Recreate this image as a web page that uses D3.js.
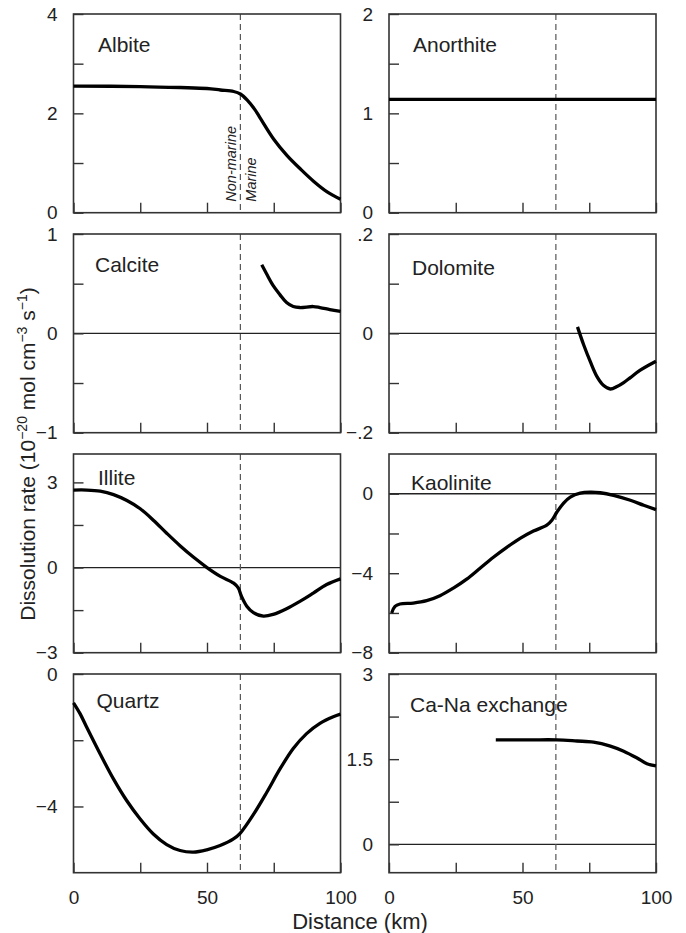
<!DOCTYPE html>
<html>
<head>
<meta charset="utf-8">
<script src="https://cdn.jsdelivr.net/npm/d3@7"></script>
<style>
  body { margin: 0; background: #fff; }
  svg text { font-family: "Liberation Sans", Arial, Helvetica, sans-serif; fill: #222; }
</style>
</head>
<body>
<svg id="chart" width="686" height="933"></svg>
<script>
// distance along the flow path (km) and dissolution rate for each mineral
var albiteX = [0, 25, 40, 50, 55, 60, 62.5, 65, 68, 70, 75, 80, 85, 90, 95, 100];
var albiteY = [2.55, 2.54, 2.52, 2.50, 2.47, 2.44, 2.39, 2.27, 2.07, 1.90, 1.48, 1.15, 0.88, 0.63, 0.42, 0.27];

var anorthiteX = [0, 100];
var anorthiteY = [1.14, 1.14];

var calciteX = [70.5, 72.3, 74.8, 77.3, 79.8, 82.3, 84.8, 89.8, 92.3, 96, 100];
var calciteY = [0.69, 0.60, 0.48, 0.39, 0.31, 0.27, 0.26, 0.27, 0.26, 0.24, 0.22];

var dolomiteX = [70.6, 72.9, 75.4, 77.9, 80.4, 82.9, 85.4, 87.9, 90.4, 94.1, 100];
var dolomiteY = [0.013, -0.023, -0.057, -0.087, -0.105, -0.112, -0.107, -0.099, -0.089, -0.074, -0.056];

var illiteX = [0, 5, 10, 15, 20, 25, 30, 35, 40, 45, 50, 55, 60, 61.7, 62.9, 64.9, 67.4, 71.1, 74.8, 79.8, 84.8, 89.8, 94.8, 100];
var illiteY = [2.73, 2.73, 2.69, 2.57, 2.36, 2.07, 1.66, 1.20, 0.76, 0.36, 0, -0.31, -0.55, -0.72, -1.01, -1.36, -1.59, -1.71, -1.65, -1.45, -1.19, -0.90, -0.60, -0.40];

var kaoliniteX = [1, 2.25, 4.1, 9.1, 14.1, 19.1, 24.1, 29.1, 34.1, 39.1, 44.1, 49.1, 54.1, 59.1, 61, 62.9, 65.4, 67.9, 71.6, 75.4, 79.1, 84.1, 90.4, 95.4, 100];
var kaoliniteY = [-6.0, -5.67, -5.55, -5.5, -5.38, -5.13, -4.75, -4.3, -3.75, -3.2, -2.7, -2.25, -1.88, -1.58, -1.33, -0.92, -0.47, -0.17, 0.03, 0.08, 0.05, -0.08, -0.33, -0.58, -0.8];

var quartzX = [0, 2.4, 4.9, 9.9, 14.9, 19.9, 24.9, 29.9, 34.9, 39.9, 44.9, 49.9, 54.9, 59.9, 62.4, 67.4, 72.4, 77.4, 82.3, 87.3, 92.3, 97.3, 100];
var quartzY = [-0.87, -1.19, -1.6, -2.4, -3.16, -3.82, -4.37, -4.83, -5.15, -5.33, -5.38, -5.31, -5.18, -4.98, -4.81, -4.24, -3.57, -2.86, -2.25, -1.8, -1.49, -1.29, -1.21];

var exchangeX = [40, 52.9, 62.9, 70.4, 76.6, 82.9, 87.9, 92.9, 96.6, 100];
var exchangeY = [1.84, 1.84, 1.84, 1.82, 1.80, 1.73, 1.64, 1.52, 1.42, 1.38];

var boundaryKm = 62.5;
var xTicks = [0, 25, 50, 75, 100];
var xTickLabels = ["0", "", "50", "", "100"];

var panels = [
  {name: "Albite", xs: albiteX, ys: albiteY, domain: [0, 4], ticks: [0, 1, 2, 3, 4], labels: ["0", "", "2", "", "4"], lx: 24.5, ly: 38},
  {name: "Anorthite", xs: anorthiteX, ys: anorthiteY, domain: [0, 2], ticks: [0, 0.5, 1, 1.5, 2], labels: ["0", "", "1", "", "2"], lx: 24, ly: 38},
  {name: "Calcite", xs: calciteX, ys: calciteY, domain: [-1, 1], ticks: [-1, -0.5, 0, 0.5, 1], labels: ["\u22121", "", "0", "", "1"], lx: 21.5, ly: 38, zero: true},
  {name: "Dolomite", xs: dolomiteX, ys: dolomiteY, domain: [-0.2, 0.2], ticks: [-0.2, -0.1, 0, 0.1, 0.2], labels: ["\u2212.2", "", "0", "", ".2"], lx: 23, ly: 41, zero: true},
  {name: "Illite", xs: illiteX, ys: illiteY, domain: [-3, 4], ticks: [-3, -1.5, 0, 1.5, 3], labels: ["\u22123", "", "0", "", "3"], lx: 24.5, ly: 31, zero: true},
  {name: "Kaolinite", xs: kaoliniteX, ys: kaoliniteY, domain: [-8, 2], ticks: [-8, -6, -4, -2, 0], labels: ["\u22128", "", "\u22124", "", "0"], lx: 22, ly: 36, zero: true},
  {name: "Quartz", xs: quartzX, ys: quartzY, domain: [-6, 0], ticks: [-4, -2, 0], labels: ["\u22124", "", "0"], lx: 23, ly: 34},
  {name: "Ca-Na exchange", xs: exchangeX, ys: exchangeY, domain: [-0.5, 3], ticks: [0, 0.75, 1.5, 2.25, 3], labels: ["0", "", "1.5", "", "3"], lx: 21, ly: 38, zero: true}
];

var svg = d3.select("#chart");
var colX = [73.5, 389], panelW = 267;
var rowY = [14, 234, 454, 674], panelH = 198.7;
var frame = "#333";

var x = d3.scaleLinear().domain([0, 100]).range([0, panelW]);

panels.forEach(function(p, i) {
  var col = i % 2, row = Math.floor(i / 2);
  var g = svg.append("g").attr("transform", "translate(" + colX[col] + "," + rowY[row] + ")");
  var y = d3.scaleLinear().domain(p.domain).range([panelH, 0]);

  // zero reference line
  if (p.zero) {
    g.append("line")
      .attr("x1", 0).attr("x2", panelW)
      .attr("y1", y(0)).attr("y2", y(0))
      .attr("stroke", "#222").attr("stroke-width", 1.3);
  }

  // non-marine / marine boundary
  g.append("line")
    .attr("x1", x(boundaryKm)).attr("x2", x(boundaryKm))
    .attr("y1", 0).attr("y2", panelH)
    .attr("stroke", "#555").attr("stroke-width", 1.2)
    .attr("stroke-dasharray", "6,4");

  // y axis: inward ticks, labels outside
  var yAxis = d3.axisLeft(y).tickValues(p.ticks).tickSize(-10).tickPadding(16)
    .tickFormat(function(d, k) { return p.labels[k]; });
  var ya = g.append("g").call(yAxis);
  ya.select(".domain").remove();
  ya.selectAll("line").attr("stroke", frame).attr("stroke-width", 1.4);
  ya.selectAll("text").style("font-size", "19px").attr("fill", "#222")
    .attr("font-family", "Liberation Sans, Arial, sans-serif");

  // x axis: inward ticks, labels only on the bottom row
  var xAxis = d3.axisBottom(x).tickValues(xTicks).tickSize(-10).tickPadding(18)
    .tickFormat(function(d, k) { return row === 3 ? xTickLabels[k] : ""; });
  var xa = g.append("g").attr("transform", "translate(0," + panelH + ")").call(xAxis);
  xa.select(".domain").remove();
  xa.selectAll("line").attr("stroke", frame).attr("stroke-width", 1.4);
  xa.selectAll("text").style("font-size", "19px").attr("fill", "#222")
    .attr("font-family", "Liberation Sans, Arial, sans-serif");

  // frame
  g.append("rect")
    .attr("width", panelW).attr("height", panelH)
    .attr("fill", "none").attr("stroke", frame).attr("stroke-width", 1.6);

  // curve
  var pts = p.xs.map(function(d, k) { return [d, p.ys[k]]; });
  var line = d3.line()
    .x(function(d) { return x(d[0]); })
    .y(function(d) { return y(d[1]); })
    .curve(d3.curveCatmullRom.alpha(0.5));
  g.append("path").datum(pts)
    .attr("d", line)
    .attr("fill", "none").attr("stroke", "#000")
    .attr("stroke-width", 3.3).attr("stroke-linejoin", "round");

  g.append("text")
    .attr("x", p.lx).attr("y", p.ly)
    .style("font-size", "21px")
    .text(p.name);

  if (i === 0) {
    var bx = x(boundaryKm);
    g.append("text")
      .attr("transform", "translate(" + (bx - 4) + "," + (panelH - 11) + ") rotate(-90)")
      .style("font-size", "14.5px").style("font-style", "italic")
      .text("Non-marine");
    g.append("text")
      .attr("transform", "translate(" + (bx + 16) + "," + (panelH - 11) + ") rotate(-90)")
      .style("font-size", "14.5px").style("font-style", "italic")
      .text("Marine");
  }
});

// axis titles
svg.append("text")
  .attr("x", 360).attr("y", 929)
  .attr("text-anchor", "middle")
  .style("font-size", "22px")
  .text("Distance (km)");

var yt = svg.append("text")
  .attr("transform", "translate(35,454) rotate(-90)")
  .attr("text-anchor", "middle")
  .style("font-size", "21px");
yt.append("tspan").text("Dissolution rate (10");
yt.append("tspan").attr("dy", -8).style("font-size", "14px").text("\u221220");
yt.append("tspan").attr("dy", 8).text(" mol cm");
yt.append("tspan").attr("dy", -8).style("font-size", "14px").text("\u22123");
yt.append("tspan").attr("dy", 8).text(" s");
yt.append("tspan").attr("dy", -8).style("font-size", "14px").text("\u22121");
yt.append("tspan").attr("dy", 8).text(")");
</script>
</body>
</html>
